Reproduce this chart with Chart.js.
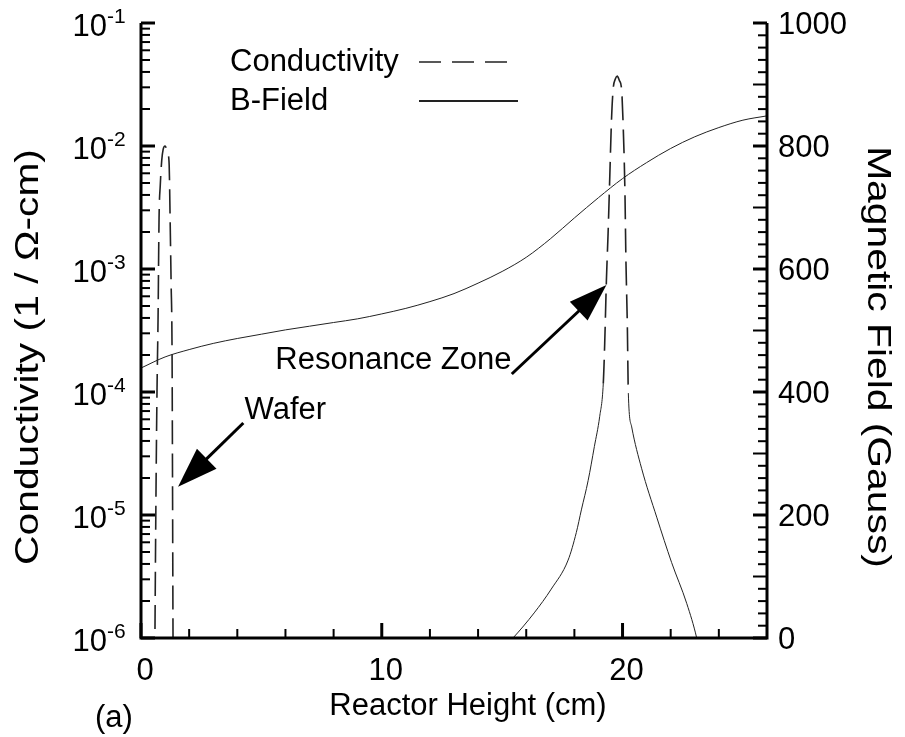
<!DOCTYPE html>
<html>
<head>
<meta charset="utf-8">
<script src="https://cdn.jsdelivr.net/npm/chart.js@4.4.1/dist/chart.umd.min.js"></script>
<style>
  html, body { margin: 0; padding: 0; background: #fff; }
  #wrap { width: 905px; height: 737px; }
</style>
</head>
<body>
<div id="wrap"><canvas id="reactorChart"></canvas></div>
<script>
// Conductivity near the wafer (height in cm, conductivity in 1/Ohm-cm)
const waferHeight = [0.55, 0.58, 0.625, 0.667, 0.708, 0.75, 0.80, 0.86, 0.92, 1.0, 1.06, 1.12, 1.17, 1.21, 1.25, 1.29, 1.31, 1.33, 1.35];
const waferConductivity = [1e-7, 1.1e-6, 1.7e-5, 1.1e-4, 3.9e-4, 2.6e-3, 4.8e-3, 7.6e-3, 9.4e-3, 1.0e-2, 9.5e-3, 8.6e-3, 7.0e-3, 2.5e-3, 7.8e-4, 2.1e-4, 1.7e-5, 1.0e-6, 1e-7];

// Conductivity in the resonance zone
const resonanceHeight = [14.9, 15.45, 16.33, 17.04, 17.74, 18.08, 18.29, 18.57, 18.83, 19.05, 19.20, 19.26, 19.33, 19.40, 19.47, 19.54, 19.61, 19.70, 19.78, 19.87, 19.96, 20.03, 20.10, 20.14, 20.20, 20.24, 20.38, 20.79, 21.42, 22.04, 22.67, 23.08, 23.3];
const resonanceConductivity = [7.8e-7, 1.0e-6, 1.6e-6, 2.5e-6, 4.3e-6, 7.2e-6, 1.1e-5, 1.9e-5, 3.6e-5, 6.3e-5, 1.17e-4, 2.5e-4, 8.1e-4, 1.95e-3, 5.6e-3, 1.6e-2, 2.9e-2, 3.5e-2, 3.7e-2, 3.4e-2, 2.9e-2, 1.4e-2, 4.2e-3, 1.2e-3, 3.4e-4, 9.8e-5, 5.2e-5, 2.4e-5, 9.6e-6, 4.1e-6, 1.9e-6, 1.0e-6, 6e-7];

// Magnetic field along the reactor (Gauss)
const fieldHeight = [0, 1, 2, 3, 4, 5, 6, 7, 8, 9, 10, 11, 12, 13, 14, 15, 16, 17, 18, 19, 20, 21, 22, 23, 24, 25, 26];
const fieldGauss = [439, 457, 469, 479, 487, 494, 501, 507, 513, 519, 527, 536, 547, 560, 577, 596, 619, 649, 683, 716, 747, 773, 796, 815, 830, 842, 849];

// Axis ticks
const heightTicks = [0, 10, 20];
const heightMinorTicks = [2, 4, 6, 8, 12, 14, 16, 18, 22, 24];
const fieldTicks = [0, 200, 400, 600, 800, 1000];
const condExponents = [-6, -5, -4, -3, -2, -1];

const FONT = '"Liberation Sans", Arial, sans-serif';
const INK = '#222';

const condPoints = waferHeight.map((h, i) => ({ x: h, y: waferConductivity[i] }))
  .concat([{ x: 8, y: null }])
  .concat(resonanceHeight.map((h, i) => ({ x: h, y: resonanceConductivity[i] })));
const fieldPoints = fieldHeight.map((h, i) => ({ x: h, y: fieldGauss[i] }));

// tails of the resonance peak are drawn as a thin solid line
function isTail(c) {
  return c.p0.parsed.x > 10 && Math.max(c.p0.parsed.y, c.p1.parsed.y) < 1.3e-4;
}

function arrow(ctx, tx, ty, px, py, len, half) {
  const dx = px - tx, dy = py - ty;
  const d = Math.hypot(dx, dy);
  const ux = dx / d, uy = dy / d;
  const bx = px - ux * len, by = py - uy * len;
  ctx.beginPath();
  ctx.moveTo(tx, ty);
  ctx.lineTo(bx + ux * 2, by + uy * 2);
  ctx.lineWidth = 3;
  ctx.stroke();
  ctx.beginPath();
  ctx.moveTo(px, py);
  ctx.lineTo(bx - uy * half, by + ux * half);
  ctx.lineTo(bx + uy * half, by - ux * half);
  ctx.closePath();
  ctx.fill();
}

function verticalTitle(ctx, text, x, y, angle) {
  ctx.save();
  ctx.translate(x, y);
  ctx.rotate(angle);
  ctx.scale(1.2, 1);
  ctx.font = '34px ' + FONT;
  ctx.textAlign = 'center';
  ctx.textBaseline = 'middle';
  ctx.fillText(text, 0, 0);
  ctx.restore();
}

const framePlugin = {
  id: 'frame',
  afterDraw(chart) {
    const ctx = chart.ctx;
    const { left, right, top, bottom } = chart.chartArea;
    const sx = chart.scales.x, sy = chart.scales.y, sf = chart.scales.y1;
    ctx.save();
    ctx.strokeStyle = '#000';
    ctx.fillStyle = '#000';
    ctx.lineCap = 'butt';

    // axis lines (no top border)
    ctx.lineWidth = 3;
    ctx.beginPath();
    ctx.moveTo(left, top);
    ctx.lineTo(left, bottom);
    ctx.lineTo(right, bottom);
    ctx.lineTo(right, top);
    ctx.stroke();

    function tick(x1, y1, x2, y2, w) {
      ctx.lineWidth = w;
      ctx.beginPath();
      ctx.moveTo(x1, y1);
      ctx.lineTo(x2, y2);
      ctx.stroke();
    }

    // bottom ticks
    heightTicks.forEach(v => { const x = sx.getPixelForValue(v); tick(x, bottom, x, bottom - 15, 3); });
    heightMinorTicks.forEach(v => { const x = sx.getPixelForValue(v); tick(x, bottom, x, bottom - 9, 2); });

    // left log ticks
    condExponents.forEach(e => {
      const y = sy.getPixelForValue(Math.pow(10, e));
      tick(left, y, left + 14, y, 3);
      if (e < -1) {
        for (let m = 2; m <= 9; m++) {
          const ym = sy.getPixelForValue(m * Math.pow(10, e));
          tick(left, ym, left + 9, ym, 2);
        }
      }
    });

    // right field ticks
    for (let g = 0; g <= 1000; g += 20) {
      const y = sf.getPixelForValue(g);
      if (g % 200 === 0) tick(right, y, right - 14, y, 3);
      else if (g % 100 === 0) tick(right, y, right - 14, y, 2);
      else tick(right, y, right - 9, y, 2);
    }

    // tick labels
    ctx.fillStyle = '#000';
    ctx.font = '31px ' + FONT;
    ctx.textBaseline = 'middle';
    ctx.textAlign = 'center';
    heightTicks.forEach(v => ctx.fillText(String(v), sx.getPixelForValue(v) + 4, bottom + 33));

    ctx.textAlign = 'left';
    fieldTicks.forEach(v => ctx.fillText(String(v), right + 11, sf.getPixelForValue(v) + 2));

    condExponents.forEach(e => {
      const y = sy.getPixelForValue(Math.pow(10, e));
      ctx.font = '31px ' + FONT;
      ctx.textAlign = 'right';
      ctx.fillText('10', 107, y + 4);
      ctx.font = '21px ' + FONT;
      ctx.textAlign = 'left';
      ctx.fillText(String(e), 107, y - 6);
    });

    // axis titles
    ctx.font = '31px ' + FONT;
    ctx.textAlign = 'center';
    ctx.fillText('Reactor Height (cm)', (left + right) / 2 + 14, bottom + 68);
    ctx.textAlign = 'left';
    ctx.fillText('(a)', 95, bottom + 80);

    verticalTitle(ctx, 'Conductivity (1 / \u03A9-cm)', 29, 357, -Math.PI / 2);
    verticalTitle(ctx, 'Magnetic Field (Gauss)', 877, 357, Math.PI / 2);

    // legend
    ctx.font = '31px ' + FONT;
    ctx.textBaseline = 'middle';
    ctx.textAlign = 'left';
    ctx.fillText('Conductivity', 230, 62);
    ctx.fillText('B-Field', 230, 101);
    ctx.strokeStyle = INK;
    ctx.lineWidth = 1.6;
    ctx.setLineDash([22, 11]);
    ctx.beginPath(); ctx.moveTo(419, 62); ctx.lineTo(512, 62); ctx.stroke();
    ctx.setLineDash([]);
    ctx.lineWidth = 2;
    ctx.beginPath(); ctx.moveTo(419, 101); ctx.lineTo(518, 101); ctx.stroke();

    // annotations
    ctx.strokeStyle = '#000';
    ctx.fillStyle = '#000';
    ctx.fillText('Resonance Zone', sx.getPixelForValue(5.58), sy.getPixelForValue(1.8e-4));
    arrow(ctx, sx.getPixelForValue(15.4), sy.getPixelForValue(1.4e-4),
      sx.getPixelForValue(19.33), sy.getPixelForValue(7.4e-4), 38, 13);
    ctx.fillText('Wafer', sx.getPixelForValue(4.3), sy.getPixelForValue(7.1e-5));
    arrow(ctx, sx.getPixelForValue(4.25), sy.getPixelForValue(5.6e-5),
      sx.getPixelForValue(1.54), sy.getPixelForValue(1.7e-5), 40, 14);

    ctx.restore();
  }
};

const ctx = document.getElementById('reactorChart').getContext('2d');
new Chart(ctx, {
  type: 'line',
  data: {
    datasets: [
      {
        label: 'Conductivity',
        data: condPoints,
        yAxisID: 'y',
        borderColor: INK,
        borderWidth: 1.6,
        borderDash: [24, 9],
        pointRadius: 0,
        cubicInterpolationMode: 'monotone',
        spanGaps: false,
        segment: {
          borderDash: c => isTail(c) ? [] : undefined,
          borderWidth: c => isTail(c) ? 1 : undefined,
        },
      },
      {
        label: 'B-Field',
        data: fieldPoints,
        yAxisID: 'y1',
        borderColor: INK,
        borderWidth: 1,
        pointRadius: 0,
        cubicInterpolationMode: 'monotone',
      },
    ],
  },
  options: {
    responsive: true,
    maintainAspectRatio: false,
    animation: false,
    layout: { padding: { left: 141, right: 138, top: 23, bottom: 99 } },
    plugins: { legend: { display: false }, tooltip: { enabled: false } },
    scales: {
      x: { type: 'linear', min: 0, max: 26, display: false },
      y: { type: 'logarithmic', min: 1e-6, max: 1e-1, display: false },
      y1: { type: 'linear', position: 'right', min: 0, max: 1000, display: false },
    },
  },
  plugins: [framePlugin],
});
</script>
</body>
</html>
